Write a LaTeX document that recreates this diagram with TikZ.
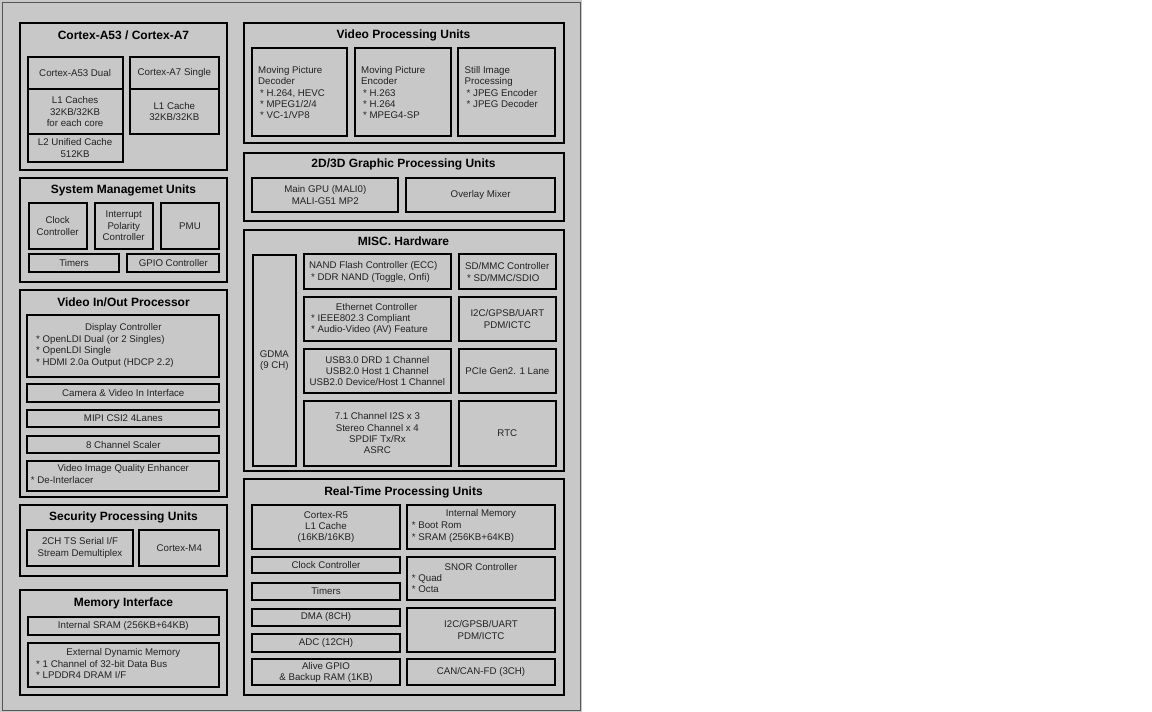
\documentclass[tikz,border=0pt]{standalone}
\usepackage{fontspec}
\setmainfont{Liberation Sans}
\usetikzlibrary{fit}
\definecolor{bg}{RGB}{200,200,200}
\definecolor{framec}{RGB}{85,85,85}
\definecolor{txt}{RGB}{34,34,34}
\newcommand\bodyfont{\fontsize{9.7}{11.3}\selectfont}
\newcommand\titlefont{\bfseries\fontsize{12}{14}\selectfont}
\tikzset{
  grp/.style={draw=black, line width=2pt, inner sep=0pt},
  box/.style={draw=black, line width=2pt, inner sep=0pt},
  ttl/.style={font=\titlefont, text=black, inner sep=0pt},
  lt/.style={align=left, text=txt, font=\bodyfont, inner sep=0pt, anchor=west},
  ltn/.style={align=left, text=txt, font=\bodyfont, inner sep=0pt, anchor=north west},
  ct/.style={align=center, text=txt, font=\bodyfont, inner sep=0pt},
}
\newcommand\bx[6]{\node[box, fit={(#2,#3) (#4,#5)}] (#1) {};
  \node[ct] (#1t) at (#1.center) {#6};}
\newcommand\gp[6]{\node[grp, fit={(#2,#3) (#4,#5)}] (#1) {};}
\newcommand\bsp{\hspace*{2pt}}
\begin{document}
\begin{tikzpicture}[x=1pt,y=-1pt]
\fill[white] (0,0) rectangle (1152,712);
\useasboundingbox (0,0) rectangle (1152,712);
\fill[bg] (0,0) rectangle (582,712);
\draw[framec, line width=1pt] (2.5,2.5) rectangle (580.5,710.5);

% ---------- left column ----------
\gp{g1}{20}{23}{227}{170}{}
\node[ttl] (g1t) at (123.5,35) {Cortex-A53 / Cortex-A7};
\bx{a53dual}{27.5}{56.7}{122.7}{89.3}{Cortex-A53 Dual}
\bx{a53l1}{27.5}{89.3}{122.7}{134}{L1 Caches\\32KB/32KB\\for each core}
\bx{a53l2}{27.5}{134}{122.7}{162.3}{L2 Unified Cache\\512KB}
\bx{a7single}{130}{56.7}{218.7}{89.3}{Cortex-A7 Single}
\bx{a7l1}{130}{89.3}{218.7}{134}{L1 Cache\\32KB/32KB}

\gp{g2}{20}{177.5}{227}{281.5}{}
\node[ttl] (g2t) at (123.5,190.7) {System Managemet Units};
\bx{clk}{28.7}{203.3}{86.7}{248.7}{Clock\\Controller}
\bx{irq}{94.7}{203.3}{152.7}{248.7}{Interrupt\\Polarity\\Controller}
\bx{pmu}{160.7}{203.3}{219.3}{248.7}{PMU}
\bx{tmr}{28.7}{254}{119.3}{272}{Timers}
\bx{gpio}{127.3}{254}{219.3}{272}{GPIO Controller}

\gp{g3}{20}{289.5}{227}{496.5}{}
\node[ttl] (g3t) at (123.5,302) {Video In/Out Processor};
\node[box, fit={(27.3,315) (219.3,376.7)}] (disp) {};
\node[ct] (dispa) at (123.3,327.7) {Display Controller};
\node[lt] (dispb) at (36,351.3) {* OpenLDI Dual (or 2 Singles)\\* OpenLDI Single\\* HDMI 2.0a Output (HDCP 2.2)};
\bx{cam}{27.3}{384}{219.3}{402}{Camera \& Video In Interface}
\bx{mipi}{27.3}{410}{219.3}{427.3}{MIPI CSI2 4Lanes}
\bx{scal}{27.3}{436}{219.3}{453.3}{8 Channel Scaler}
\node[box, fit={(27.3,461.3) (219.3,490.7)}] (viqe) {};
\node[ct] (viqea) at (123.3,468.7) {Video Image Quality Enhancer};
\node[lt] (viqeb) at (30.7,480) {* De-Interlacer};

\gp{g4}{20}{504.5}{227}{576}{}
\node[ttl] (g4t) at (123.5,517.3) {Security Processing Units};
\bx{ts}{27.3}{530}{132.7}{566}{2CH TS Serial I/F\\Stream Demultiplex}
\bx{m4}{139.3}{530}{219.3}{566}{Cortex-M4}

\gp{g5}{20}{590}{227}{695.3}{}
\node[ttl] (g5t) at (123.5,603.3) {Memory Interface};
\bx{isram}{28}{616.7}{218.7}{635.3}{Internal SRAM (256KB+64KB)}
\node[box, fit={(28,642.7) (218.7,686.7)}] (ext) {};
\node[ct] (exta) at (123.3,652.7) {External Dynamic Memory};
\node[lt] (extb) at (36,669.7) {* 1 Channel of 32-bit Data Bus\\* LPDDR4 DRAM I/F};

% ---------- right column ----------
\gp{g6}{243.5}{22.7}{563.5}{143.3}{}
\node[ttl] (g6t) at (403.5,35) {Video Processing Units};
\node[box, fit={(251.7,48.3) (347,136)}] (dec) {};
\node[ltn] (dect) at (258,66.3) {Moving Picture\\Decoder\\\bsp* H.264, HEVC\\\bsp* MPEG1/2/4\\\bsp* VC-1/VP8};
\node[box, fit={(355,48.3) (451,136)}] (enc) {};
\node[ltn] (enct) at (361,66.3) {Moving Picture\\Encoder\\\bsp* H.263\\\bsp* H.264\\\bsp* MPEG4-SP};
\node[box, fit={(458.3,48.3) (555,136)}] (still) {};
\node[ltn] (stillt) at (464.5,66.3) {Still Image\\Processing\\\bsp* JPEG Encoder\\\bsp* JPEG Decoder};

\gp{g7}{243.5}{152.7}{563.5}{220.7}{}
\node[ttl] (g7t) at (403.5,164) {2D/3D Graphic Processing Units};
\bx{mgpu}{252.3}{178}{398.3}{212}{Main GPU (MALI0)\\MALI-G51 MP2}
\bx{ovl}{406.3}{178}{555}{212}{Overlay Mixer}

\gp{g8}{243.5}{229.7}{563.5}{471}{}
\node[ttl] (g8t) at (403.5,241.7) {MISC. Hardware};
\bx{gdma}{253}{255}{295.7}{465.7}{GDMA\\(9 CH)}
\node[box, fit={(303.7,254.3) (451,289)}] (nand) {};
\node[lt] (nandt) at (309,272) {NAND Flash Controller (ECC)\\\bsp* DDR NAND (Toggle, Onfi)};
\node[box, fit={(459,254.3) (555.7,289)}] (sdmmc) {};
\node[lt] (sdmmct) at (465,272) {SD/MMC Controller\\\bsp* SD/MMC/SDIO};
\node[box, fit={(303.7,297) (451,341)}] (eth) {};
\node[ct] (etha) at (376.7,306.7) {Ethernet Controller};
\node[lt] (ethb) at (311,324.7) {* IEEE802.3 Compliant\\* Audio-Video (AV) Feature};
\bx{i2ca}{459}{297}{555.7}{341}{I2C/GPSB/UART\\PDM/ICTC}
\bx{usb}{303.7}{349}{451}{393}{USB3.0 DRD 1 Channel\\USB2.0 Host 1 Channel\\USB2.0 Device/Host 1 Channel}
\bx{pcie}{459}{349}{555.7}{393}{PCIe Gen2. 1 Lane}
\bx{i2s}{303.7}{401}{451}{465.7}{7.1 Channel I2S x 3\\Stereo Channel x 4\\SPDIF Tx/Rx\\ASRC}
\bx{rtc}{459}{401}{555.7}{465.7}{RTC}

\gp{g9}{243.5}{478.7}{563.5}{695.3}{}
\node[ttl] (g9t) at (403.5,492) {Real-Time Processing Units};
\bx{r5}{252.3}{505.3}{399.7}{548.7}{Cortex-R5\\L1 Cache\\(16KB/16KB)}
\node[box, fit={(407,505.3) (555,548.7)}] (imem) {};
\node[ct] (imema) at (481,514.3) {Internal Memory};
\node[lt] (imemb) at (411.7,532.2) {* Boot Rom\\* SRAM (256KB+64KB)};
\bx{rclk}{252.3}{556.7}{399.7}{573.3}{Clock Controller}
\bx{rtmr}{252.3}{582.7}{399.7}{600}{Timers}
\node[box, fit={(407,556.7) (555,600)}] (snor) {};
\node[ct] (snora) at (481,566.7) {SNOR Controller};
\node[lt] (snorb) at (411.7,583.5) {* Quad\\* Octa};
\bx{dma}{252.3}{608.7}{399.7}{626}{DMA (8CH)}
\bx{adc}{252.3}{634}{399.7}{652}{ADC (12CH)}
\bx{i2cb}{407}{608}{555}{652}{I2C/GPSB/UART\\PDM/ICTC}
\bx{agpio}{252.3}{659.3}{399.7}{685.3}{Alive GPIO\\\& Backup RAM (1KB)}
\bx{can}{407}{659.3}{555}{685.3}{CAN/CAN-FD (3CH)}
\end{tikzpicture}
\end{document}
